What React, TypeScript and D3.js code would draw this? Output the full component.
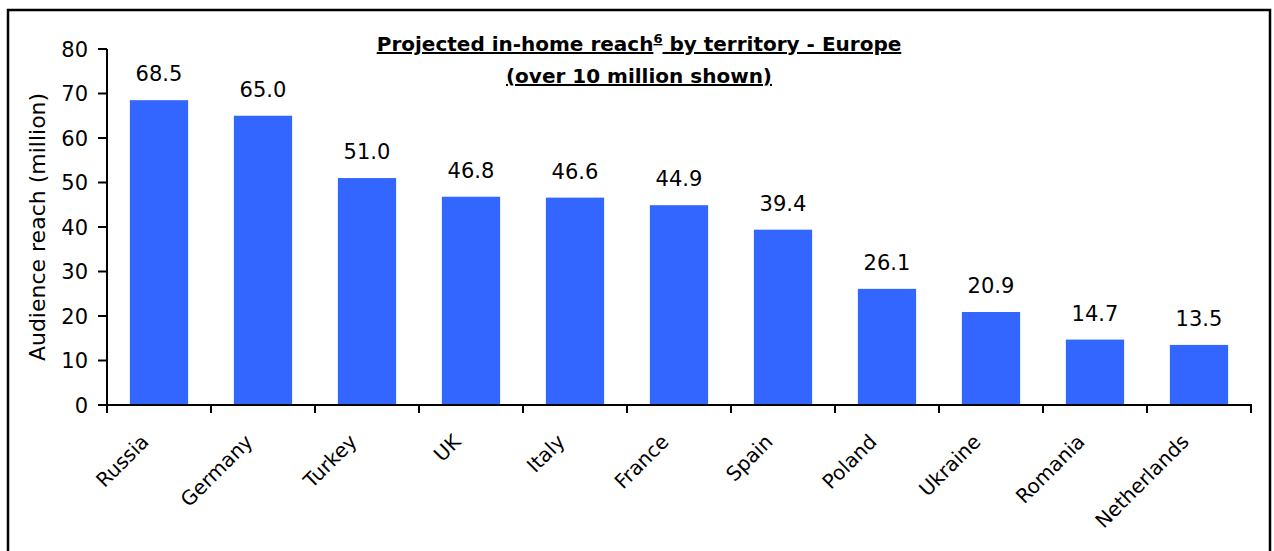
import React from "react";
import * as d3 from "d3";

const categories = ["Russia", "Germany", "Turkey", "UK", "Italy", "France", "Spain", "Poland", "Ukraine", "Romania", "Netherlands"];
const values = [68.5, 65.0, 51.0, 46.8, 46.6, 44.9, 39.4, 26.1, 20.9, 14.7, 13.5];
const yTicks = [0, 10, 20, 30, 40, 50, 60, 70, 80];
const titleLine1 = "Projected in-home reach";
const titleSup = "6";
const titleLine1b = " by territory - Europe";
const titleLine2 = "(over 10 million shown)";
const yTitle = "Audience reach (million)";

const W = 1274;
const H = 551;
const FONT = "'DejaVu Sans', sans-serif";

export default function App() {
  const x = d3.scaleBand<string>().domain(categories).range([107, 1251]).paddingInner(0.44).paddingOuter(0.22);
  const y = d3.scaleLinear().domain([0, 80]).range([405, 49]);
  const step = x.step();
  const x0 = 107;
  return (
    <svg width={W} height={H} style={{ position: "absolute", left: 0, top: 0, background: "#fff" }} fontFamily={FONT}>
      <rect x={8} y={10} width={1262} height={560} fill="#fff" stroke="#000" strokeWidth={2.5} />
      {/* title */}
      <text x={639} y={51} textAnchor="middle" fontSize={20} fontWeight={700} textDecoration="underline" fill="#000">
        {titleLine1}
        <tspan fontSize={13} dy={-8}>{titleSup}</tspan>
        <tspan dy={8}>{titleLine1b}</tspan>
      </text>
      <text x={639} y={83} textAnchor="middle" fontSize={20} fontWeight={700} textDecoration="underline" fill="#000">
        {titleLine2}
      </text>
      {/* bars */}
      {categories.map((c, i) => (
        <rect key={c} x={x(c)} y={y(values[i])} width={x.bandwidth()} height={y(0) - y(values[i])} fill="#3366FF" />
      ))}
      {/* value labels */}
      {categories.map((c, i) => (
        <text key={c} x={(x(c) as number) + x.bandwidth() / 2} y={y(values[i]) - 19} textAnchor="middle" fontSize={21} fill="#000">
          {values[i].toFixed(1)}
        </text>
      ))}
      {/* y axis */}
      <line x1={x0} x2={x0} y1={y(80)} y2={y(0)} stroke="#000" strokeWidth={2} />
      {yTicks.map((t) => (
        <g key={t}>
          <line x1={98} x2={x0} y1={y(t)} y2={y(t)} stroke="#000" strokeWidth={2} />
          <text x={88} y={y(t)} dy="0.36em" textAnchor="end" fontSize={21} fill="#000">{t}</text>
        </g>
      ))}
      <text transform={`translate(45, ${(y(0) + y(80)) / 2}) rotate(-90)`} textAnchor="middle" fontSize={22} fill="#000">
        {yTitle}
      </text>
      {/* x axis */}
      <line x1={x0} x2={1252} y1={y(0)} y2={y(0)} stroke="#000" strokeWidth={2} />
      {d3.range(categories.length + 1).map((i) => (
        <line key={i} x1={x0 + i * step} x2={x0 + i * step} y1={y(0)} y2={y(0) + 8} stroke="#000" strokeWidth={2} />
      ))}
      {categories.map((c) => {
        const cx = (x(c) as number) + x.bandwidth() / 2;
        return (
          <text key={c} transform={`translate(${cx - 9}, 443) rotate(-45)`} textAnchor="end" fontSize={20} fill="#000">
            {c}
          </text>
        );
      })}
    </svg>
  );
}
